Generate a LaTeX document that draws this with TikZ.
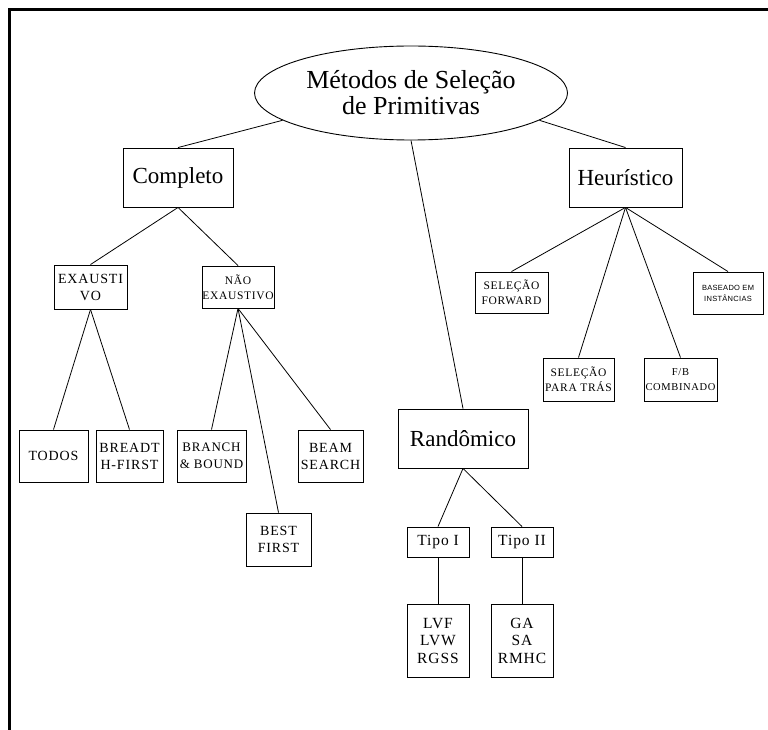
\documentclass[tikz,border=0pt]{standalone}
\usepackage{fontspec}
\setmainfont{Liberation Serif}
\newfontfamily\spcfont[LetterSpace=6]{Liberation Serif}
\newfontfamily\tinysans[LetterSpace=4]{Liberation Sans}
\usetikzlibrary{shapes.geometric}
\begin{document}
\begin{tikzpicture}[x=1pt,y=-1pt,
  box/.style={draw,line width=0.9pt,rectangle,inner sep=0pt,align=center},
  bigbox/.style={box,font=\fontsize{23}{25}\selectfont},
  midbox/.style={box,font=\spcfont\fontsize{14}{17}\selectfont},
  smallbox/.style={box,font=\spcfont\fontsize{11.5}{15}\selectfont},
  randbox/.style={box,minimum width=62pt,font=\spcfont\fontsize{15.5}{17.5}\selectfont},
  link/.style={line width=0.8pt}]
\useasboundingbox (0,0) rectangle (768,730);
% frame along the top and left edges
\draw[line width=3.5pt] (9.5,730) -- (9.5,9.5) -- (768,9.5);

% root
\node[draw,line width=0.9pt,ellipse,minimum width=313pt,minimum height=94pt,inner sep=0pt,align=center,
      font=\fontsize{26}{26}\selectfont] (root) at (411,93) {Métodos de Seleção\\de Primitivas};

% first level
\node[bigbox,minimum width=110pt,minimum height=59pt] (comp) at (178,177.5) {Completo};
\node[bigbox,minimum width=113pt,minimum height=59pt] (heur) at (625.5,177.5) {Heurístico};
\node[bigbox,minimum width=130pt,minimum height=59pt] (rand) at (463,438.5) {Randômico};

% Completo branch
\node[midbox,minimum width=73pt,minimum height=44pt] (exa) at (90.5,287) {EXAUSTI\\VO};
\node[smallbox,minimum width=72pt,minimum height=42pt] (naoexa) at (238,287) {NÃO\\EXAUSTIVO};
\node[midbox,minimum width=69pt,minimum height=52pt] (todos) at (53.5,456) {TODOS};
\node[midbox,minimum width=67pt,minimum height=52pt] (bread) at (129.5,456) {BREADT\\H-FIRST};
\node[midbox,minimum width=69pt,minimum height=52pt,font=\spcfont\fontsize{13}{17}\selectfont] (branch) at (211.5,456) {BRANCH\\\& BOUND};
\node[midbox,minimum width=65pt,minimum height=52pt] (beam) at (330.5,456) {BEAM\\SEARCH};
\node[midbox,minimum width=65pt,minimum height=53pt] (best) at (278.5,539.5) {BEST\\FIRST};

% Heurístico branch
\node[smallbox,minimum width=73pt,minimum height=41pt] (fwd) at (511.5,292.5) {SELEÇÃO\\FORWARD};
\node[box,minimum width=70pt,minimum height=42pt,font=\tinysans\fontsize{7.5}{11}\selectfont] (inst) at (728,293) {BASEADO EM\\INSTÂNCIAS};
\node[smallbox,minimum width=71pt,minimum height=43pt] (back) at (578.5,379.5) {SELEÇÃO\\PARA TRÁS};
\node[smallbox,minimum width=73pt,minimum height=43pt,font=\spcfont\fontsize{10.5}{15}\selectfont] (fb) at (680.5,379.5) {F/B\\COMBINADO};

% Randômico branch
\node[randbox,minimum height=30pt] (t1) at (438,542) {Tipo I};
\node[randbox,minimum height=30pt] (t2) at (522,542) {Tipo II};
\node[randbox,minimum height=73pt] (lv) at (438,640.5) {LVF\\LVW\\RGSS};
\node[randbox,minimum height=73pt] (ga) at (522,640.5) {GA\\SA\\RMHC};

% connectors
\draw[link] (root.192) -- (comp.north);
\draw[link] (root.348) -- (heur.north);
\draw[link] (root.south) -- (rand.north);

\draw[link] (comp.south) -- (exa.north);
\draw[link] (comp.south) -- (naoexa.north);
\draw[link] (exa.south) -- (todos.north);
\draw[link] (exa.south) -- (bread.north);
\draw[link] (naoexa.south) -- (branch.north);
\draw[link] (naoexa.south) -- (best.north);
\draw[link] (naoexa.south) -- (beam.north);

\draw[link] (heur.south) -- (fwd.north);
\draw[link] (heur.south) -- (back.north);
\draw[link] (heur.south) -- (fb.north);
\draw[link] (heur.south) -- (inst.north);

\draw[link] (rand.south) -- (t1.north);
\draw[link] (rand.south) -- (t2.north);
\draw[link] (t1.south) -- (lv.north);
\draw[link] (t2.south) -- (ga.north);
\end{tikzpicture}
\end{document}
